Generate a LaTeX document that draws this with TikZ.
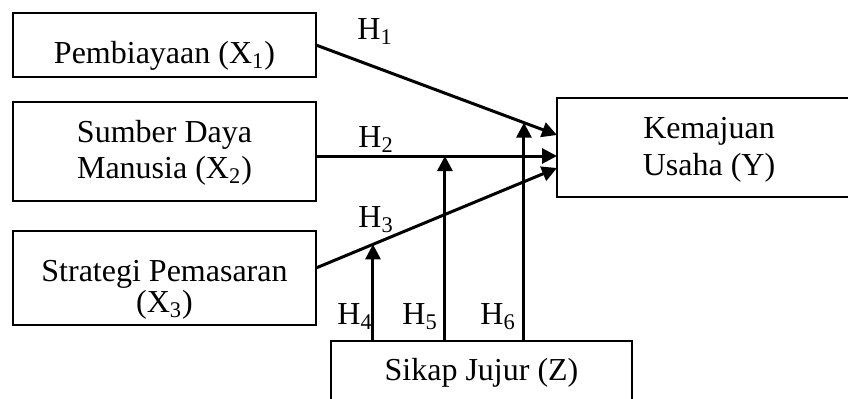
\documentclass[tikz,border=0pt]{standalone}
\usepackage{fontspec}
\setmainfont{Liberation Serif}
\usetikzlibrary{arrows.meta,calc}
\begin{document}
\begin{tikzpicture}[x=0.5pt,y=-0.5pt,
  box/.style={draw, line width=0.75pt, inner sep=0pt, outer sep=0pt},
  txt/.style={anchor=base, inner sep=0pt, font=\fontsize{16}{18}\selectfont},
  hlab/.style={anchor=base west, inner sep=0pt, font=\fontsize{16}{18}\selectfont},
  arr/.style={-{Triangle[length=7.5pt,width=7.5pt]}, line width=1.5pt}]
\useasboundingbox (0,0) rectangle (848,398);
\clip (0,0) rectangle (848,398);
\fill[white] (0,0) rectangle (848,398);
% boxes
\node[box, minimum width=151.5pt, minimum height=32pt] (x1) at (164.5,45) {};
\node[box, minimum width=151.5pt, minimum height=49.5pt] (x2) at (164.5,151.5) {};
\node[box, minimum width=151.5pt, minimum height=47pt] (x3) at (164.5,278) {};
\node[box, minimum width=152pt, minimum height=49.5pt] (y) at (709,147.5) {};
\node[box, minimum width=150.5pt, minimum height=34.5pt] (z) at (481.5,375.5) {};
% texts
\node[txt] (t1) at (164.5,63) {Pembiayaan (X\textsubscript{1})};
\node[txt] (t2a) at (164.5,142) {Sumber Daya};
\node[txt] (t2b) at (164.5,178.5) {Manusia (X\textsubscript{2})};
\node[txt] (t3a) at (164.5,281) {Strategi Pemasaran};
\node[txt] (t3b) at (164.5,312) {(X\textsubscript{3})};
\node[txt] (ty1) at (709,138.5) {Kemajuan};
\node[txt] (ty2) at (709,175) {Usaha (Y)};
\node[txt] (tz) at (481.5,380) {Sikap Jujur (Z)};
% hypothesis labels
\node[hlab] (h1) at (357,39) {H\textsubscript{1}};
\node[hlab] (h2) at (358,147) {H\textsubscript{2}};
\node[hlab] (h3) at (358,227) {H\textsubscript{3}};
\node[hlab] (h4) at (337,324) {H\textsubscript{4}};
\node[hlab] (h5) at (402,324) {H\textsubscript{5}};
\node[hlab] (h6) at (480,324) {H\textsubscript{6}};
% connector end points
\coordinate (e1) at (557,135);
\coordinate (s2) at (316,156);
\coordinate (e2) at (557,156);
\coordinate (s3) at (316,268);
\coordinate (e3) at (557,168);
\coordinate (m6) at ($(x1.east)!0.863!(e1)$);
\coordinate (m5) at ($(s2)!0.535!(e2)$);
\coordinate (m4) at ($(s3)!0.2365!(e3)$);
% arrows
\draw[arr] (x1.east) -- (e1);
\draw[arr] (s2) -- (e2);
\draw[arr] (s3) -- (e3);
\draw[arr] (z.north -| m4) -- (m4);
\draw[arr] (z.north -| m5) -- (m5);
\draw[arr] (z.north -| m6) -- (m6);
\end{tikzpicture}
\end{document}
